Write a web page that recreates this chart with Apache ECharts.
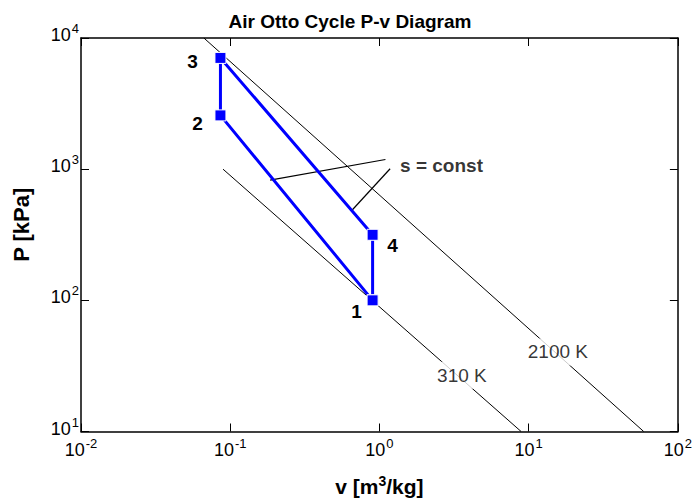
<!DOCTYPE html>
<html>
<head>
<meta charset="utf-8">
<script src="https://cdn.jsdelivr.net/npm/echarts@6/dist/echarts.min.js"></script>
<style>
html,body{margin:0;padding:0;background:#fff;}
#chart{width:695px;height:502px;}
</style>
</head>
<body>
<div id="chart"></div>
<script>
// ---- data ----
const stateNames = ['1', '2', '3', '4'];
const stateV = [0.9, 0.086, 0.086, 0.9];        // m3/kg
const stateP = [100, 2570, 7050, 316];          // kPa

const iso310V = [0.0895, 8.9];
const iso310P = [1000, 10];
const iso2100V = [0.0666, 59];
const iso2100P = [10000, 10];

const isoLabelText = ['310 K', '2100 K'];
const isoLabelV = [3.57, 15.7];
const isoLabelP = [26.8, 40.4];

const leader1V = [0.185, 1.097];
const leader1P = [825, 1185];
const leader2V = [0.65, 1.179];
const leader2P = [482, 1007];
const sConstText = 's = const';
const sConstV = 1.375;
const sConstP = 1067;

const xTickValues = [0.01, 0.1, 1, 10, 100];
const yTickValues = [10, 100, 1000, 10000];

// ---- build ----
const FONT = 'Liberation Sans';
const pair = (xs, ys) => xs.map((x, i) => [x, ys[i]]);

const cycleData = [];
for (let i = 0; i < stateV.length; i++) cycleData.push([stateV[i], stateP[i]]);
cycleData.push([stateV[0], stateP[0]]);

const labelOffsets = [[-16, 11], [-23, 8], [-28, 4], [20, 11]];
const cycleSeriesData = cycleData.map((d, i) => {
  if (i < stateNames.length) {
    return {
      value: d,
      label: { show: true, formatter: stateNames[i], position: 'inside', offset: labelOffsets[i],
        fontFamily: FONT, fontWeight: 'bold', fontSize: 19, color: '#000' }
    };
  }
  return { value: d, label: { show: false } };
});

const supRich = {
  ten: { fontSize: 18, fontFamily: FONT, color: '#000' },
  ex: { fontSize: 13, fontFamily: FONT, color: '#000', padding: [0, 0, 13, 1] }
};
const expFmt = v => '{ten|10}{ex|' + Math.round(Math.log10(v)) + '}';

const axisLineStyle = { color: '#000', width: 1.5 };

const chart = echarts.init(document.getElementById('chart'), null, { renderer: 'svg' });
chart.setOption({
  animation: false,
  backgroundColor: '#fff',
  title: {
    text: 'Air Otto Cycle P-v Diagram',
    left: 345, top: 7, textAlign: 'center',
    textStyle: { fontFamily: FONT, fontWeight: 'bold', fontSize: 19, color: '#000' }
  },
  grid: { left: 81, right: 16, top: 38, bottom: 69, containLabel: false },
  xAxis: [{
    type: 'log', logBase: 10, min: xTickValues[0], max: xTickValues[xTickValues.length - 1],
    position: 'bottom',
    name: '{n|v [m}{sp|3}{n|/kg]}', nameLocation: 'middle', nameGap: 42,
    nameTextStyle: { fontFamily: FONT, fontWeight: 'bold', fontSize: 21, color: '#000', rich: {
      n: { fontFamily: FONT, fontWeight: 'bold', fontSize: 21, color: '#000' },
      sp: { fontFamily: FONT, fontWeight: 'bold', fontSize: 14, color: '#000', padding: [0, 0, 12, 0] }
    } },
    axisLine: { show: true, lineStyle: axisLineStyle },
    axisTick: { show: true, inside: true, length: 8, lineStyle: { color: '#000', width: 1 } },
    axisLabel: { show: true, formatter: expFmt, rich: supRich, color: '#000',
      margin: 5, showMinLabel: true, showMaxLabel: true },
    splitLine: { show: false }, minorTick: { show: false }
  }, {
    type: 'log', logBase: 10, min: xTickValues[0], max: xTickValues[xTickValues.length - 1],
    position: 'top',
    axisLine: { show: true, lineStyle: axisLineStyle },
    axisTick: { show: true, inside: true, length: 8, lineStyle: { color: '#000', width: 1 } },
    axisLabel: { show: false }, splitLine: { show: false }
  }],
  yAxis: [{
    type: 'log', logBase: 10, min: yTickValues[0], max: yTickValues[yTickValues.length - 1],
    position: 'left',
    name: 'P [kPa]', nameLocation: 'middle', nameGap: 49, nameRotate: 90,
    nameTextStyle: { fontFamily: FONT, fontWeight: 'bold', fontSize: 22, color: '#000', padding: [0, 0, 0, 20] },
    axisLine: { show: true, lineStyle: axisLineStyle },
    axisTick: { show: true, inside: true, length: 8, lineStyle: { color: '#000', width: 1 } },
    axisLabel: { show: true, formatter: expFmt, rich: supRich, color: '#000',
      margin: 2, padding: [0, 0, 6, 0] },
    splitLine: { show: false }
  }, {
    type: 'log', logBase: 10, min: yTickValues[0], max: yTickValues[yTickValues.length - 1],
    position: 'right',
    axisLine: { show: true, lineStyle: axisLineStyle },
    axisTick: { show: true, inside: true, length: 8, lineStyle: { color: '#000', width: 1 } },
    axisLabel: { show: false }, splitLine: { show: false }
  }],
  series: [
    { type: 'line', data: pair(iso310V, iso310P), symbol: 'none', z: 2,
      lineStyle: { color: '#000', width: 1 } },
    { type: 'line', data: pair(iso2100V, iso2100P), symbol: 'none', z: 2,
      lineStyle: { color: '#000', width: 1 } },
    { type: 'line', data: pair(leader1V, leader1P), symbol: 'none', z: 2,
      lineStyle: { color: '#000', width: 1.2 } },
    { type: 'line', data: pair(leader2V, leader2P), symbol: 'none', z: 2,
      lineStyle: { color: '#000', width: 1.2 } },
    { type: 'scatter', symbolSize: 0, z: 5,
      data: isoLabelText.map((t, i) => ({ value: [isoLabelV[i], isoLabelP[i]], name: t })),
      label: { show: true, position: 'inside', formatter: p => p.name,
        fontFamily: FONT, fontSize: 19, color: '#000', backgroundColor: '#fff', padding: [4, 2] } },
    { type: 'scatter', symbolSize: 0, z: 5,
      data: [{ value: [sConstV, sConstP], name: sConstText }],
      label: { show: true, position: 'inside', align: 'left', formatter: p => p.name,
        fontFamily: FONT, fontWeight: 'bold', fontSize: 19, color: '#000' } },
    { type: 'line', data: cycleSeriesData, z: 4,
      symbol: 'rect', symbolSize: 11, showAllSymbol: true,
      lineStyle: { color: '#0000ff', width: 3 },
      itemStyle: { color: '#0000ff', borderColor: '#fff', borderWidth: 1 } }
  ]
});
</script>
</body>
</html>
